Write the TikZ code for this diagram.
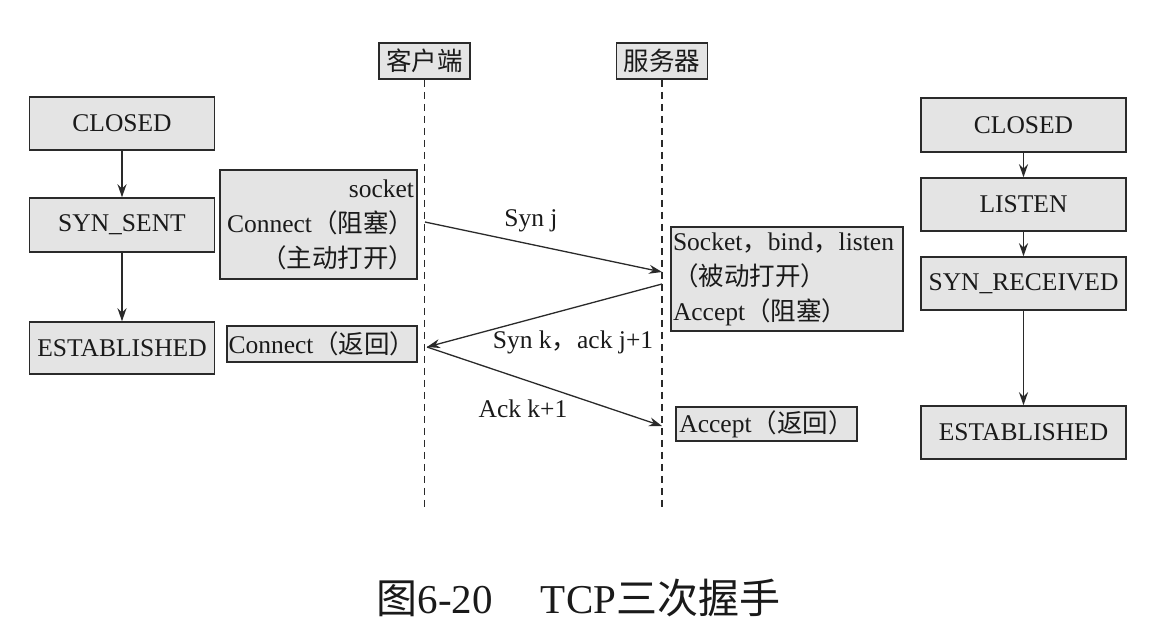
\documentclass[tikz,border=0pt]{standalone}
\usepackage{fontspec}
\setmainfont{Liberation Serif}
\newfontfamily\cjk{Noto Sans CJK SC}
\usetikzlibrary{arrows.meta}
\newcommand\zh[1]{{\cjk #1}}
\definecolor{boxfill}{HTML}{E4E4E4}
\definecolor{linec}{HTML}{2A2A2A}
\definecolor{txt}{HTML}{1A1A1A}
\tikzset{
  box/.style={draw=linec, line width=1.5pt, fill=boxfill, inner sep=0pt, text=txt,
    font=\fontsize{25.5}{35}\selectfont},
  arr/.style={-{Stealth[length=13pt,width=9pt]}, line width=1.3pt, draw=linec},
  lifeline/.style={draw=linec, line width=1.3pt, dash pattern=on 7pt off 5pt},
  lbl/.style={inner sep=0pt, text=txt, font=\fontsize{25.5}{30}\selectfont}
}
\begin{document}
\begin{tikzpicture}[x=1pt,y=-1pt]
\useasboundingbox (0,0) rectangle (1164,638);
\fill[white] (0,0) rectangle (1164,638);
% headers
\node[box, minimum width=91pt, minimum height=36pt] (ch) at (424.5,61) {\zh{客户端}};
\node[box, minimum width=91pt, minimum height=36pt] (sh) at (662,61) {\zh{服务器}};
\coordinate (cend) at (424.5,510);
\coordinate (send) at (662,510);
\draw[lifeline] (ch.south) -- (cend);
\draw[lifeline] (sh.south) -- (send);
% left states
\node[box, minimum width=185pt, minimum height=53pt] (lc) at (122,123.5) {CLOSED};
\node[box, minimum width=185pt, minimum height=54pt] (ls) at (122,225) {SYN\_SENT};
\node[box, minimum width=185pt, minimum height=52pt] (le) at (122,348) {ESTABLISHED};
\draw[arr] (lc) -- (ls);
\draw[arr] (ls) -- (le);
% right states
\node[box, minimum width=205pt, minimum height=54pt] (rc) at (1023.5,125) {CLOSED};
\node[box, minimum width=205pt, minimum height=53pt] (rl) at (1023.5,204.5) {LISTEN};
\node[box, minimum width=205pt, minimum height=53pt] (rs) at (1023.5,283.5) {SYN\_RECEIVED};
\node[box, minimum width=205pt, minimum height=53pt] (re) at (1023.5,432.5) {ESTABLISHED};
\draw[arr] (rc) -- (rl);
\draw[arr] (rl) -- (rs);
\draw[arr] (rs) -- (re);
% call boxes
\node[box, minimum height=109pt, inner xsep=3pt, text width=191pt, align=right] (cb) at (318.5,224.5)
  {socket\\Connect\zh{（阻塞）}\\\zh{（主动打开）}};
\node[box, minimum height=104pt, inner xsep=2pt, text width=228pt, align=left] (sb) at (787,279)
  {Socket\zh{，}bind\zh{，}listen\\\zh{（被动打开）}\\Accept\zh{（阻塞）}};
\node[box, minimum width=190pt, minimum height=36pt] (cr) at (322,344) {Connect\zh{（返回）}};
\node[box, minimum width=181pt, minimum height=34pt] (ar) at (766.5,424) {Accept\zh{（返回）}};
% messages
\coordinate (a1) at (425,222);
\coordinate (b1) at (662,272);
\coordinate (b2) at (662,284);
\coordinate (a2) at (427,347);
\coordinate (b3) at (662,426);
\draw[arr] (a1) -- (b1);
\draw[arr] (b2) -- (a2);
\draw[arr] (a2) -- (b3);
\node[lbl] (l1) at (531,221) {Syn j};
\node[lbl] (l2) at (573,342) {Syn k\zh{，}ack j+1};
\node[lbl] (l3) at (523,409) {Ack k+1};
% caption
\node[inner sep=0pt, text=txt, font=\fontsize{41}{48}\selectfont] (cap) at (578.5,598)
  {\zh{图}6-20\hspace{48pt}TCP\zh{三次握手}};
\end{tikzpicture}
\end{document}
